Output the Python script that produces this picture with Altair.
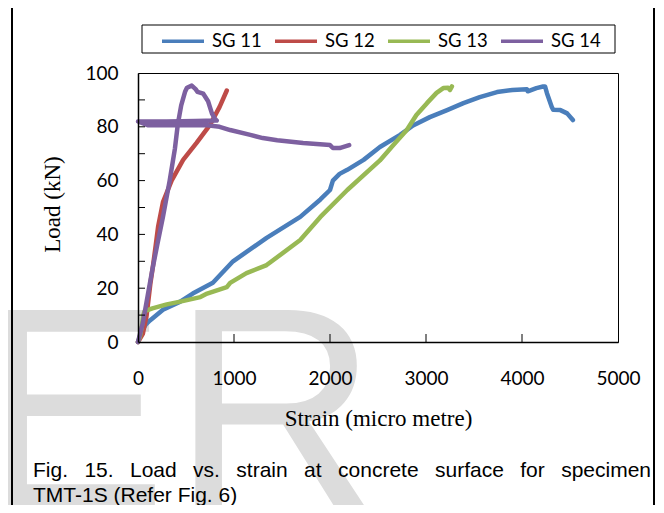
import altair as alt
import pandas as pd

# ---------------- data ----------------
series_names = ["SG 11", "SG 12", "SG 13", "SG 14"]
series_colors = ["#4A7EBB", "#BE4B48", "#98B954", "#7D60A0"]

sg11_strain = [0, 40, 80, 125, 260, 440, 570, 780, 990, 1340, 1690, 1900, 2000, 2030, 2100,
               2180, 2350, 2520, 2730, 2865, 3040, 3220, 3390, 3560, 3740, 3900, 4050, 4060,
               4150, 4220, 4240, 4260, 4310, 4325, 4400, 4470, 4530]
sg11_load = [0, 4, 6.5, 8, 12, 15, 18, 22, 30, 38.7, 46.5, 53, 56.5, 60, 62.5,
             64, 67.7, 72.5, 77, 80.5, 83.6, 86.2, 88.8, 91, 92.9, 93.7, 94, 93.2,
             94.4, 95, 95, 92.5, 87.4, 86.3, 86.2, 85, 82.5]

sg12_strain = [0, 50, 90, 110, 130, 155, 185, 210, 260, 350, 470, 610, 750, 850, 925]
sg12_load = [0, 3, 10, 16, 22, 28, 36, 43, 52, 60, 67.7, 74, 80.7, 87.4, 93.5]

sg13_strain = [0, 20, 40, 55, 70, 150, 300, 440, 650, 720, 925, 960, 1130, 1340, 1690,
               1900, 2180, 2520, 2660, 2800, 2900, 3010, 3110, 3180, 3230, 3250, 3270]
sg13_load = [0, 2, 6, 10, 11.5, 12.5, 14, 15, 16.7, 18, 20.4, 22, 25.6, 28.6, 37.9,
             46.5, 56.5, 67.5, 73.2, 78.8, 84.4, 88.8, 92.6, 94.4, 94.5, 93.7, 95]

sg14_strain = [0, 50, 100, 150, 200, 260, 330, 385, 415, 450, 490, 510, 560, 600, 620,
               680, 730, 770, 800, 820, 600, 300, 0, 100, 400, 700, 850, 960, 1170,
               1300, 1450, 1720, 2000, 2030, 2100, 2200]
sg14_load = [0, 7, 17, 27, 36, 46.5, 60, 72, 81, 88, 93, 94.5, 95.3, 94, 93,
             92.3, 89.5, 85, 83, 82.3, 82.2, 82, 82, 80.6, 80.6, 80.7, 80, 78.8, 77,
             75.8, 75, 74, 73.2, 72.1, 72.1, 73.2]

x_tick_values = [0, 1000, 2000, 3000, 4000, 5000]
y_tick_values = [0, 10, 20, 30, 40, 50, 60, 70, 80, 90, 100]

x_title = "Strain (micro metre)"
y_title = "Load (kN)"
caption_line1 = ["Fig.", "15.", "Load", "vs.", "strain", "at", "concrete", "surface", "for", "specimen"]
caption_line2 = "TMT-1S (Refer Fig. 6)"

# ---------------- build table ----------------
rows = []
for name, xs, ys in zip(series_names,
                        [sg11_strain, sg12_strain, sg13_strain, sg14_strain],
                        [sg11_load, sg12_load, sg13_load, sg14_load]):
    for i, (xv, yv) in enumerate(zip(xs, ys)):
        rows.append({"series": name, "strain": xv, "load": yv, "i": i})
df = pd.DataFrame(rows)

W, H = 480, 269
xscale = alt.Scale(domain=[0, 5000], nice=False, zero=True)
yscale = alt.Scale(domain=[0, 100], nice=False, zero=True)

one = alt.Data(values=[{"k": 1}])

# watermark letters
wm_E = alt.Chart(one).mark_text(text="E", font="Liberation Sans", fontSize=285, color="#dcdcdc",
                                align="left", baseline="alphabetic").encode(
    x=alt.value(-161), y=alt.value(433))
wm_R = alt.Chart(one).mark_text(text="R", font="Liberation Sans", fontSize=285, color="#dcdcdc",
                                align="left", baseline="alphabetic").encode(
    x=alt.value(34), y=alt.value(433))

lines = alt.Chart(df).mark_line(strokeWidth=4.5, strokeCap="round", strokeJoin="round").encode(
    x=alt.X("strain:Q", scale=xscale,
            axis=alt.Axis(values=x_tick_values, title=x_title, format="d", labelPadding=27,
                          labelFlush=False, labelOverlap=False, zindex=2,
                          titleY=83, titleBaseline="alphabetic")),
    y=alt.Y("load:Q", scale=yscale,
            axis=alt.Axis(values=y_tick_values, title=y_title, format="d", labelPadding=20,
                          labelFlush=False, labelOverlap=False, zindex=2,
                          titleX=-79, titleY=131, titleAngle=270, titleAlign="center",
                          titleBaseline="alphabetic")),
    color=alt.Color("series:N", scale=alt.Scale(domain=series_names, range=series_colors),
                    legend=alt.Legend(orient="none", legendX=22, legendY=-55, direction="horizontal",
                                      title=None, symbolType="stroke", symbolSize=1764,
                                      symbolStrokeWidth=3.5, labelFont="Lato", labelFontSize=18.5,
                                      labelColor="black", labelOffset=6, columnPadding=6,
                                      padding=0)),
    order="i:Q",
)

yticks = alt.Chart(pd.DataFrame({"load": y_tick_values[1:-1]})).mark_rule(
    color="black", strokeWidth=1).encode(
    y=alt.Y("load:Q", scale=yscale), x=alt.value(0), x2=alt.value(7))
xticks = alt.Chart(pd.DataFrame({"strain": x_tick_values[1:-1]})).mark_rule(
    color="black", strokeWidth=1).encode(
    x=alt.X("strain:Q", scale=xscale), y=alt.value(H), y2=alt.value(H - 8))

legend_box = alt.Chart(one).mark_rect(fill=None, stroke="black", strokeWidth=1).encode(
    x=alt.value(4), x2=alt.value(477), y=alt.value(-48), y2=alt.value(-20))

frame_l = alt.Chart(one).mark_rule(color="black", strokeWidth=2).encode(
    x=alt.value(-126), y=alt.value(-80), y2=alt.value(450))
frame_r = alt.Chart(one).mark_rule(color="black", strokeWidth=2).encode(
    x=alt.value(516), y=alt.value(-80), y2=alt.value(450))

# caption (justified first line)
arial = {" ": 278, "F": 611, "i": 222, "g": 556, ".": 278, "1": 556, "5": 556, "L": 556,
         "o": 556, "a": 556, "d": 556, "v": 500, "s": 500, "t": 278, "r": 333, "n": 556,
         "c": 500, "e": 556, "u": 556, "f": 278, "p": 556, "m": 833}
cap_fs = 21
widths = [sum(arial.get(ch, 556) for ch in w) * cap_fs / 1000 for w in caption_line1]
left, right = 33 - 138, 651 - 138
gap = (right - left - sum(widths)) / (len(caption_line1) - 1)
caption_layers = []
xpos = left
for w, wd in zip(caption_line1, widths):
    caption_layers.append(
        alt.Chart(one).mark_text(text=w, font="Liberation Sans", fontSize=cap_fs, color="black",
                                 align="left", baseline="alphabetic").encode(
            x=alt.value(xpos), y=alt.value(404)))
    xpos += wd + gap
caption_layers.append(
    alt.Chart(one).mark_text(text=caption_line2, font="Liberation Sans", fontSize=cap_fs,
                             color="black", align="left", baseline="alphabetic").encode(
        x=alt.value(left), y=alt.value(429)))

chart = alt.layer(wm_E, wm_R, lines, yticks, xticks, legend_box, frame_l, frame_r,
                  *caption_layers).properties(
    width=W, height=H,
    padding={"left": 130, "top": 65, "right": 38, "bottom": 163},
    autosize=alt.AutoSizeParams(type="none"),
    background="white",
).configure_view(
    stroke="black", strokeWidth=1
).configure_axis(
    labelFont="Lato", labelFontSize=19, labelColor="black",
    titleFont="Liberation Serif", titleFontSize=23, titleFontWeight="normal", titleColor="black",
    grid=False, ticks=False, tickSize=0, domainColor="black", domainWidth=1.5,
)

chart.save("out.html", embed_options={"renderer": "svg", "actions": False})
